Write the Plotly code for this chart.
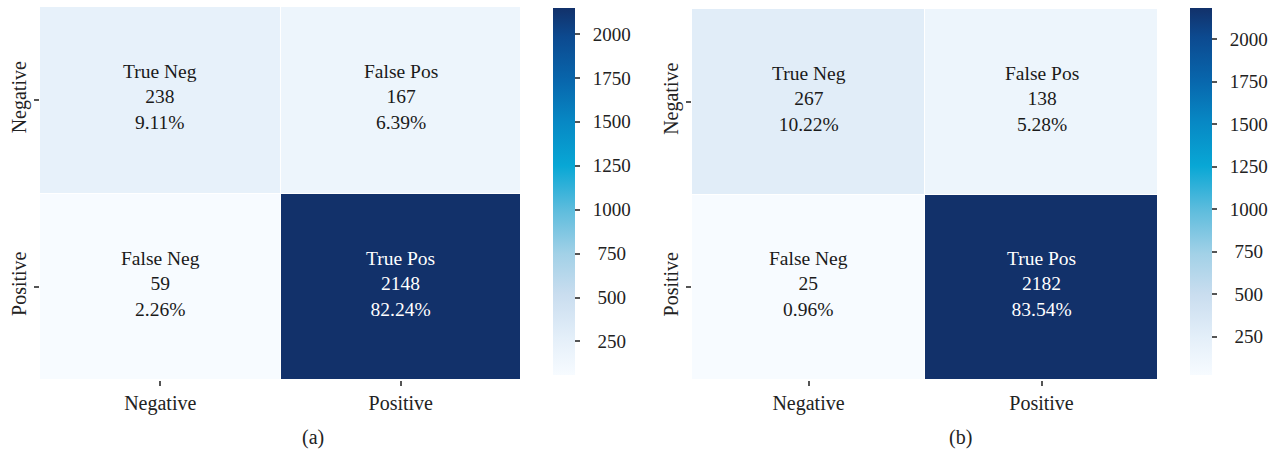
import plotly.graph_objects as go

# Class labels shared by both confusion matrices
classes = ["Negative", "Positive"]
cell_names = [["True Neg", "False Pos"], ["False Neg", "True Pos"]]

# Counts: rows = actual class, columns = predicted class
counts_a = [[238, 167], [59, 2148]]
counts_b = [[267, 138], [25, 2182]]

colorbar_ticks = [250, 500, 750, 1000, 1250, 1500, 1750, 2000]

# White-to-cyan-to-navy blue scale
blue_scale = [
    [0.00, "#f7fbff"],
    [0.10, "#e4eff9"],
    [0.22, "#c9ddef"],
    [0.33, "#a2d1e7"],
    [0.45, "#5dbcdd"],
    [0.57, "#08a7d5"],
    [0.69, "#0788c4"],
    [0.80, "#0867ad"],
    [0.92, "#0c4a90"],
    [1.00, "#12316a"],
]

FONT = "Liberation Serif"
W, H = 1277, 457


def px_x(p):
    return p / W


def px_y(p):
    return 1 - p / H


def cb_label(v):
    # gap after the tick, with shorter numbers nudged so labels sit centred
    s = str(v)
    pad = "\u2002" + "\u2005" * (4 - len(s))
    return pad + s


panels = [
    dict(counts=counts_a, xdom=(40, 521), ydom=(7, 380), cbx=553, cap="(a)", capx=313),
    dict(counts=counts_b, xdom=(692, 1158), ydom=(9, 380), cbx=1190, cap="(b)", capx=960),
]

fig = go.Figure()
annotations = []

for i, p in enumerate(panels):
    idx = "" if i == 0 else str(i + 1)
    counts = p["counts"]
    total = sum(sum(r) for r in counts)
    flat = [v for r in counts for v in r]
    zmin, zmax = min(flat), max(flat)

    fig.add_trace(go.Heatmap(
        z=counts, x=classes, y=classes,
        xaxis="x" + idx, yaxis="y" + idx,
        colorscale=blue_scale, zmin=zmin, zmax=zmax,
        xgap=1, ygap=1,
        hoverinfo="skip",
        colorbar=dict(
            x=px_x(p["cbx"]), xanchor="left", xref="paper",
            y=px_y(8), yanchor="top", len=367 / H, lenmode="fraction",
            xpad=0, ypad=0,
            thickness=22, outlinewidth=0,
            tickvals=colorbar_ticks,
            ticktext=[cb_label(v) for v in colorbar_ticks],
            ticks="outside", ticklen=5,
            tickcolor="#555555", tickwidth=2,
            tickfont=dict(family=FONT, size=19, color="#222222"),
        ),
    ))

    for r in range(2):
        for c in range(2):
            v = counts[r][c]
            txt = f"{cell_names[r][c]}<br>{v}<br>{v / total * 100:.2f}%"
            color = "white" if v > (zmin + zmax) / 2 else "#1a1a1a"
            annotations.append(dict(
                x=classes[c], y=classes[r], xref="x" + idx, yref="y" + idx,
                text=txt, showarrow=False, yshift=3,
                font=dict(family=FONT, size=19.5, color=color),
            ))

    annotations.append(dict(
        x=px_x(p["capx"]), y=px_y(437), xref="paper", yref="paper",
        xanchor="center", yanchor="middle",
        text=p["cap"], showarrow=False,
        font=dict(family=FONT, size=20, color="#222222"),
    ))

    axis_font = dict(family=FONT, size=20, color="#222222")
    fig.update_layout({
        "xaxis" + idx: dict(
            domain=[px_x(p["xdom"][0]), px_x(p["xdom"][1])],
            anchor="y" + idx, showgrid=False, zeroline=False, showline=False,
            ticks="outside", ticklen=5, tickwidth=2, tickcolor="#555555",
            tickfont=axis_font,
        ),
        "yaxis" + idx: dict(
            domain=[px_y(p["ydom"][1]), px_y(p["ydom"][0])],
            anchor="x" + idx, autorange="reversed",
            showgrid=False, zeroline=False, showline=False,
            ticks="outside", ticklen=5, tickwidth=2, tickcolor="#555555",
            tickfont=axis_font, tickangle=-90,
        ),
    })

fig.update_layout(
    width=W, height=H,
    margin=dict(l=0, r=0, t=0, b=0),
    paper_bgcolor="white", plot_bgcolor="white",
    annotations=annotations,
    showlegend=False,
)

fig.write_html("out.html")
